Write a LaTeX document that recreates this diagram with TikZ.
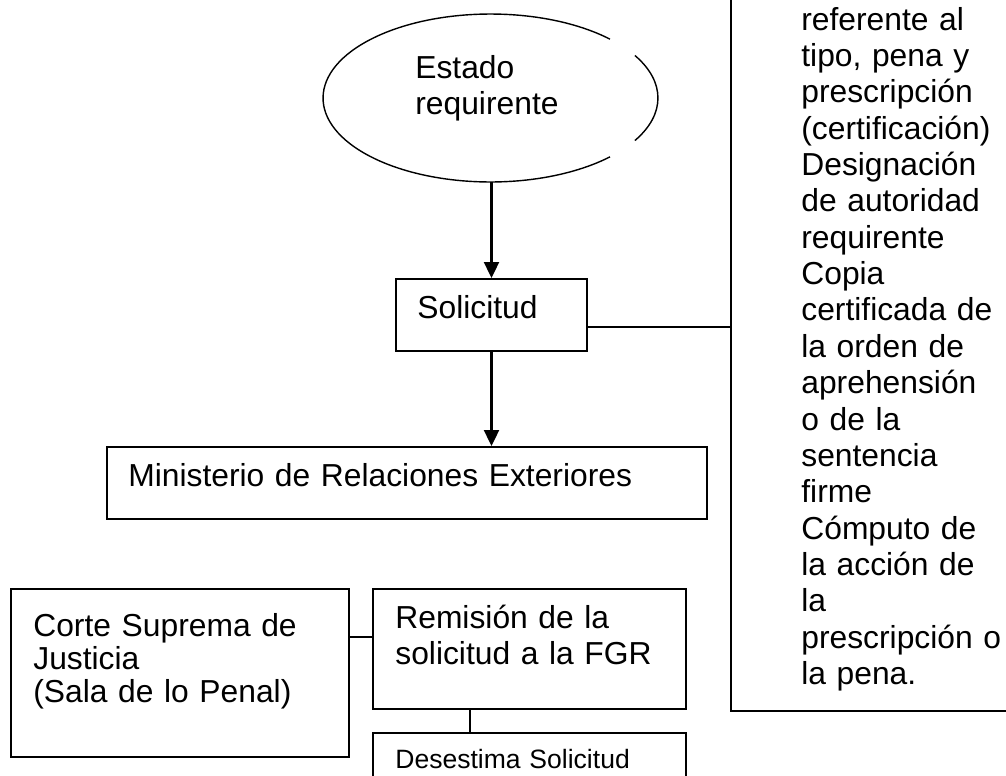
\documentclass[tikz,border=0pt]{standalone}
\usepackage{fontspec}
\setmainfont{Liberation Sans}
\usetikzlibrary{arrows.meta,calc,shapes.geometric}

\tikzset{
  caja/.style={draw, line width=1.1pt, rectangle, inner sep=0pt},
  texto/.style={anchor=base west, inner sep=0pt, align=left, text width=11cm,
    font=\fontsize{18.1}{20.7}\selectfont},
  flecha/.style={line width=1.2pt, -{Triangle[length=0.32cm,width=0.3cm]}},
  linea/.style={line width=1.1pt}
}

\begin{document}
\begin{tikzpicture}[x=0.02cm,y=-0.02cm]
\useasboundingbox (0,0) rectangle (1006,775);
\clip (0,0) rectangle (1006,775);

% cajas
\node[ellipse, minimum width=6.7cm, minimum height=3.36cm, inner sep=0pt] (estado) at (490.5,98) {};
\node[caja, minimum width=5.78cm, minimum height=14.62cm] (req) at (875.5,345.5) {};
\node[caja, minimum width=3.82cm, minimum height=1.44cm] (sol) at (491.5,315) {};
\node[caja, minimum width=12cm, minimum height=1.44cm] (min) at (407,483) {};
\node[caja, minimum width=6.76cm, minimum height=3.36cm] (corte) at (180,673) {};
\node[caja, minimum width=6.26cm, minimum height=2.4cm] (remi) at (529.5,649) {};
\node[caja, minimum width=6.26cm, minimum height=1.34cm] (dese) at (529.5,766.5) {};

% elipse cortada a la derecha
\draw[line width=0.8pt] ($(estado.center)+(44.5:3.35cm and 1.68cm)$)
  arc[start angle=44.5, end angle=315.5, x radius=3.35cm, y radius=1.68cm];
\draw[line width=0.8pt] ($(estado.center)+(-30.4:3.35cm and 1.68cm)$)
  arc[start angle=-30.4, end angle=30.4, x radius=3.35cm, y radius=1.68cm];

% textos
\node[texto] (testado) at (415,78) {Estado\\requirente};
\node[texto] (tsol) at (417,318) {Solicitud};
\node[texto] (tmin) at (128,486) {Ministerio de Relaciones Exteriores};
\node[texto, font=\fontsize{18.1}{18.8}\selectfont] (tcorte) at (33,636)
  {Corte Suprema de\\Justicia\\(Sala de lo Penal)};
\node[texto] (tremi) at (395,628) {Remisión de la\\solicitud a la FGR};
\node[texto, font=\fontsize{15.1}{17.4}\selectfont] (tdese) at (395,768) {Desestima Solicitud};
\node[texto] (treq) at (801,30) {referente al\\tipo, pena y\\prescripción\\(certificación)\\Designación\\de autoridad\\requirente\\Copia\\certificada de\\la orden de\\aprehensión\\o de la\\sentencia\\firme\\Cómputo de\\la acción de\\la\\prescripción o\\la pena.};

% conectores
\draw[flecha] (sol.north |- estado.south) -- (sol.north);
\draw[flecha] (sol.south) -- (sol.south |- min.north);
\coordinate (s1) at ($(sol.east)+(0,12)$);
\draw[linea] (s1) -- (s1 -| req.west);
\coordinate (c1) at (0,637);
\draw[linea] (corte.east |- c1) -- (remi.west |- c1);
\coordinate (r1) at (470,0);
\draw[linea] (remi.south -| r1) -- (dese.north -| r1);
\end{tikzpicture}
\end{document}
